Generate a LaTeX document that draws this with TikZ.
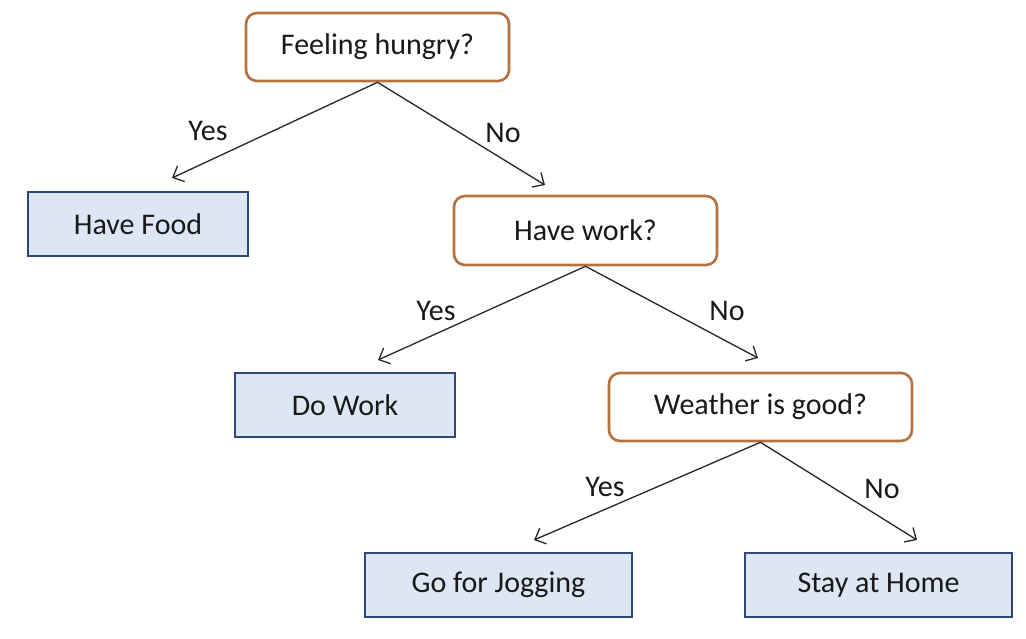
\documentclass[tikz,border=0pt]{standalone}
\usepackage{fontspec}
\setmainfont{Carlito}
\usetikzlibrary{arrows.meta}
\definecolor{qborder}{RGB}{184,112,62}
\definecolor{aborder}{RGB}{47,72,120}
\definecolor{afill}{RGB}{221,230,244}
\definecolor{txt}{RGB}{25,25,25}
\tikzset{
  question/.style={draw=qborder, line width=2.6pt, rounded corners=11pt, fill=white, inner sep=0pt, font=\fontsize{30}{35}\selectfont, text=txt},
  answer/.style={draw=aborder, line width=2.6pt, fill=afill, inner sep=0pt, font=\fontsize{30}{35}\selectfont, text=txt},
  branch/.style={draw=black!85, line width=1.3pt, -{Straight Barb[length=9pt,width=17pt,line width=1.3pt]}},
  lbl/.style={font=\fontsize{30}{35}\selectfont, text=txt, inner sep=0pt}
}
\begin{document}
\begin{tikzpicture}[x=1pt,y=-1pt]
\useasboundingbox (0,0) rectangle (1026,639);
\fill[white] (0,0) rectangle (1026,639);
\node[question, minimum width=263pt, minimum height=68pt] (hungry) at (377.5,47) {Feeling hungry?};
\node[answer, minimum width=220pt, minimum height=64pt] (food) at (138,224) {Have Food};
\node[question, minimum width=263pt, minimum height=69pt] (work) at (585.5,230.5) {Have work?};
\node[answer, minimum width=220pt, minimum height=64pt] (dowork) at (345,405) {Do Work};
\node[question, minimum width=303pt, minimum height=68pt] (weather) at (760.5,407) {Weather is good?};
\node[answer, minimum width=267pt, minimum height=64pt] (jog) at (498.5,585) {Go for Jogging};
\node[answer, minimum width=267pt, minimum height=64pt] (home) at (878.5,585) {Stay at Home};
\coordinate (e1) at (172,178);
\coordinate (e2) at (545,185);
\coordinate (e3) at (378,360);
\coordinate (e4) at (758,358);
\coordinate (e5) at (534,540);
\coordinate (e6) at (917,540);
\draw[branch] (hungry.south) -- (e1);
\draw[branch] (hungry.south) -- (e2);
\draw[branch] (work.south) -- (e3);
\draw[branch] (work.south) -- (e4);
\draw[branch] (weather.south) -- (e5);
\draw[branch] (weather.south) -- (e6);
\node[lbl] (y1) at (208,131) {Yes};
\node[lbl] (n1) at (503,133) {No};
\node[lbl] (y2) at (436,311) {Yes};
\node[lbl] (n2) at (727,311) {No};
\node[lbl] (y3) at (605,487) {Yes};
\node[lbl] (n3) at (882,489) {No};
\end{tikzpicture}
\end{document}
